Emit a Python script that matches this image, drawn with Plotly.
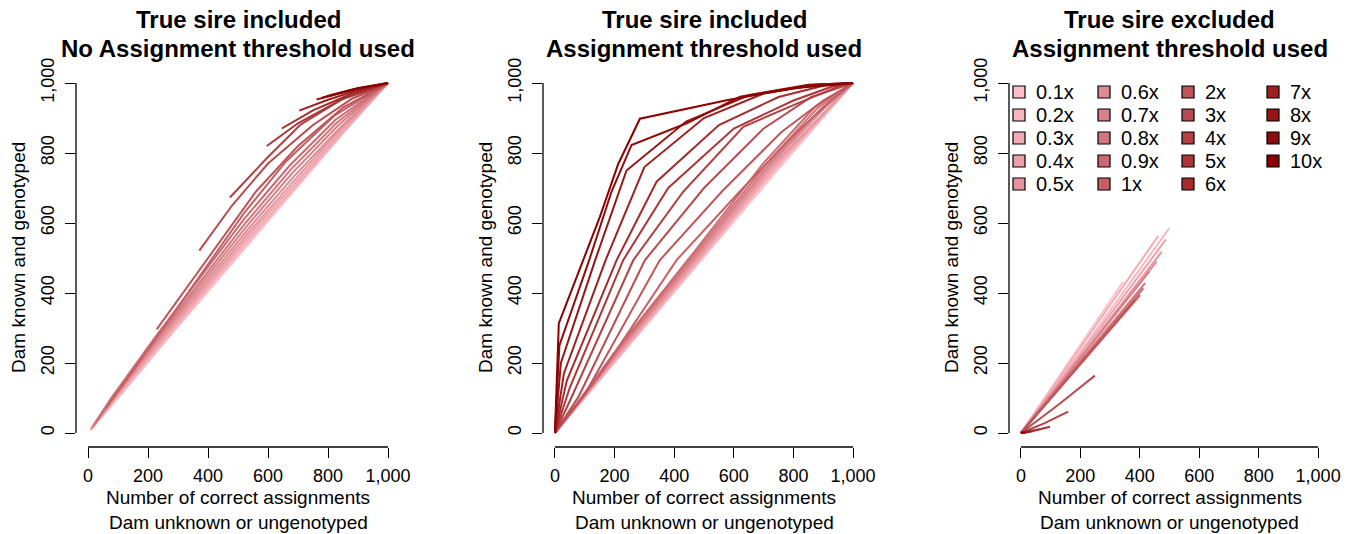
import plotly.graph_objects as go

W, H = 1353, 534

LABELS = ["0.1x", "0.2x", "0.3x", "0.4x", "0.5x", "0.6x", "0.7x", "0.8x", "0.9x",
          "1x", "2x", "3x", "4x", "5x", "6x", "7x", "8x", "9x", "10x"]

TICK_VALS = [0, 200, 400, 600, 800, 1000]
TICK_TEXT = ["0", "200", "400", "600", "800", "1,000"]

TITLES = [("True sire included", "No Assignment threshold used"),
          ("True sire included", "Assignment threshold used"),
          ("True sire excluded", "Assignment threshold used")]
XLAB = ("Number of correct assignments", "Dam unknown or ungenotyped")
YLAB = "Dam known and genotyped"

# Panel 1: true sire included, no threshold
P1_X = [
    [8, 120, 260, 410, 560, 700, 850, 1000],
    [8, 115, 255, 405, 555, 700, 850, 1000],
    [9, 110, 250, 400, 550, 700, 850, 1000],
    [10, 105, 245, 395, 545, 695, 845, 1000],
    [11, 100, 240, 390, 540, 690, 840, 1000],
    [12, 95, 235, 385, 535, 685, 840, 1000],
    [14, 90, 230, 380, 530, 680, 835, 1000],
    [18, 85, 225, 375, 525, 675, 830, 1000],
    [25, 80, 220, 370, 520, 670, 825, 1000],
    [60, 125, 240, 380, 520, 660, 820, 1000],
    [229, 418, 560, 700, 850, 1000],
    [371, 480, 600, 750, 880, 1000],
    [473, 596, 707, 850, 1000],
    [596, 700, 850, 1000],
    [646, 750, 880, 1000],
    [704, 800, 900, 1000],
    [762, 880, 1000],
    [780, 890, 1000],
    [795, 900, 1000],
]
P1_Y = [
    [8, 120, 264, 414, 564, 706, 856, 1000],
    [9, 119, 264, 416, 567, 710, 858, 1000],
    [10, 118, 264, 418, 570, 714, 860, 1000],
    [11, 116, 264, 420, 574, 718, 862, 1000],
    [12, 114, 265, 422, 578, 724, 866, 1000],
    [14, 112, 265, 425, 584, 732, 872, 1000],
    [16, 109, 266, 430, 592, 742, 880, 1000],
    [22, 106, 267, 435, 600, 752, 887, 1000],
    [30, 103, 269, 440, 611, 762, 895, 1000],
    [72, 148, 287, 458, 628, 776, 906, 1000],
    [296, 523, 690, 820, 930, 1000],
    [521, 650, 770, 880, 955, 1000],
    [673, 785, 880, 955, 1000],
    [820, 885, 955, 1000],
    [870, 922, 970, 1000],
    [921, 952, 980, 1000],
    [953, 980, 1000],
    [958, 982, 1000],
    [962, 986, 1000],
]

# Panel 2: true sire included, threshold used
P2_X = [
    [0, 250, 500, 750, 1000],
    [0, 245, 495, 745, 1000],
    [0, 240, 490, 740, 1000],
    [0, 235, 485, 735, 1000],
    [0, 230, 480, 730, 1000],
    [0, 225, 475, 725, 900, 1000],
    [0, 220, 470, 720, 890, 1000],
    [0, 215, 465, 715, 880, 1000],
    [0, 210, 460, 700, 870, 1000],
    [0, 150, 408, 620, 800, 920, 1000],
    [0, 100, 352, 560, 760, 900, 1000],
    [0, 80, 302, 500, 700, 860, 1000],
    [0, 60, 263, 431, 632, 800, 950, 1000],
    [0, 50, 229, 380, 600, 800, 930, 1000],
    [0, 40, 207, 341, 550, 750, 900, 1000],
    [0, 30, 170, 300, 500, 700, 880, 1000],
    [0, 20, 135, 240, 440, 650, 870, 1000],
    [0, 15, 115, 190, 257, 442, 621, 850, 1000],
    [0, 13, 151, 212, 285, 576, 800, 1000],
]
P2_Y = [
    [0, 252, 505, 755, 1000],
    [0, 250, 503, 758, 1000],
    [0, 248, 502, 760, 1000],
    [0, 247, 502, 762, 1000],
    [0, 246, 503, 765, 1000],
    [0, 245, 505, 768, 925, 1000],
    [0, 244, 506, 770, 925, 1000],
    [0, 243, 508, 775, 928, 1000],
    [0, 242, 510, 772, 930, 1000],
    [0, 165, 494, 690, 850, 945, 1000],
    [0, 110, 494, 690, 860, 950, 1000],
    [0, 105, 494, 700, 870, 960, 1000],
    [0, 110, 494, 690, 875, 937, 990, 1000],
    [0, 130, 494, 700, 870, 950, 990, 1000],
    [0, 150, 494, 718, 880, 960, 992, 1000],
    [0, 170, 494, 760, 900, 970, 995, 1000],
    [0, 200, 494, 750, 890, 965, 995, 1000],
    [0, 250, 494, 690, 823, 885, 961, 995, 1000],
    [0, 313, 618, 768, 898, 951, 985, 1000],
]

# Panel 3: true sire excluded, threshold used
P3_X = [
    [0, 170, 344], [0, 250, 499], [0, 230, 462], [0, 245, 488], [0, 240, 474],
    [0, 230, 457], [0, 215, 432], [0, 210, 418], [0, 205, 412], [0, 200, 401],
    [0, 190, 384], [0, 125, 249], [0, 80, 159], [0, 50, 98], [0, 30, 60],
    [0, 20, 40], [0, 12, 25], [0, 8, 15], [0, 4, 8],
]
P3_Y = [
    [0, 215, 432], [0, 290, 585], [0, 280, 563], [0, 275, 553], [0, 260, 518],
    [0, 245, 490], [0, 230, 461], [0, 215, 428], [0, 205, 413], [0, 195, 394],
    [0, 188, 380], [0, 80, 164], [0, 28, 61], [0, 8, 18], [0, 4, 10],
    [0, 2, 5], [0, 1, 3], [0, 1, 2], [0, 0, 1],
]

# colour ramp pink -> darkred
def ramp(n, c0=(255, 192, 203), c1=(139, 0, 0)):
    out = []
    for i in range(n):
        t = i / (n - 1)
        out.append("rgb(%d,%d,%d)" % tuple(round(a + (b - a) * t) for a, b in zip(c0, c1)))
    return out

COLORS = ramp(len(LABELS))

FONT = "Liberation Sans, Arial, Helvetica, sans-serif"

# panel geometry in pixels: data -40 .. 1040
PX_X = [(76, 400), (543, 865), (1009, 1330)]
PX_Y = (69, 447)  # top, bottom

fig = go.Figure()
panels = [(P1_X, P1_Y), (P2_X, P2_Y), (P3_X, P3_Y)]
for p, (XS, YS) in enumerate(panels):
    sfx = "" if p == 0 else str(p + 1)
    for i in range(len(LABELS)):
        fig.add_trace(go.Scatter(
            x=XS[i], y=YS[i], mode="lines", name=LABELS[i],
            line=dict(color=COLORS[i], width=2),
            xaxis="x" + sfx, yaxis="y" + sfx, showlegend=False,
            hoverinfo="skip"))

layout = dict(width=W, height=H, margin=dict(l=0, r=0, t=0, b=0, autoexpand=False),
              paper_bgcolor="white", plot_bgcolor="white",
              font=dict(family=FONT, color="black"))
shapes = []
annotations = []
for p in range(3):
    sfx = "" if p == 0 else str(p + 1)
    x0, x1 = PX_X[p]
    dom_x = [x0 / W, x1 / W]
    dom_y = [1 - PX_Y[1] / H, 1 - PX_Y[0] / H]
    axcommon = dict(range=[-40, 1040], showgrid=False, zeroline=False, showline=False,
                    automargin=False,
                    ticks="outside", ticklen=10, tickwidth=1.3, tickcolor="black",
                    tickvals=TICK_VALS, ticktext=TICK_TEXT,
                    tickfont=dict(family=FONT, size=18, color="black"), fixedrange=True)
    layout["xaxis" + sfx] = dict(axcommon, domain=dom_x, anchor="y" + sfx, ticklabelstandoff=2)
    layout["yaxis" + sfx] = dict(axcommon, domain=dom_y, anchor="x" + sfx, tickangle=-90,
                                 ticklabelstandoff=4)
    # axis lines spanning first to last tick (R style)
    shapes.append(dict(type="line", xref="x" + sfx, yref="y" + sfx + " domain",
                       x0=TICK_VALS[0], x1=TICK_VALS[-1], y0=0, y1=0,
                       line=dict(color="black", width=1.3)))
    shapes.append(dict(type="line", xref="x" + sfx + " domain", yref="y" + sfx,
                       x0=0, x1=0, y0=TICK_VALS[0], y1=TICK_VALS[-1],
                       line=dict(color="black", width=1.3)))
    # titles
    for k, (txt, py) in enumerate(zip(TITLES[p], (20, 48))):
        annotations.append(dict(text="<b>" + txt + "</b>", xref="x" + sfx, x=500,
                                yref="paper", y=1 - py / H, xanchor="center", yanchor="middle",
                                showarrow=False, font=dict(family=FONT, size=24, color="black")))
    for txt, py in zip(XLAB, (497, 522)):
        annotations.append(dict(text=txt, xref="x" + sfx, x=500, yref="paper", y=1 - py / H,
                                xanchor="center", yanchor="middle", showarrow=False,
                                font=dict(family=FONT, size=19, color="black")))
    annotations.append(dict(text=YLAB, xref="paper", x=(x0 - 58) / W, yref="y" + sfx, y=500,
                            xanchor="center", yanchor="middle", textangle=-90, showarrow=False,
                            font=dict(family=FONT, size=19, color="black")))

# legend in panel 3 (column-wise, 5 rows)
LEG_COL_PX = [1013, 1098, 1182, 1267]
LEG_ROW_PX = [92, 115, 138, 161, 184]
for i, lab in enumerate(LABELS):
    c, r = divmod(i, 5)
    sx = LEG_COL_PX[c]
    sy = LEG_ROW_PX[r]
    shapes.append(dict(type="rect", xref="paper", yref="paper",
                       x0=sx / W, x1=(sx + 12) / W, y0=1 - (sy + 6) / H, y1=1 - (sy - 6) / H,
                       fillcolor=COLORS[i], line=dict(color="black", width=1.2)))
    annotations.append(dict(text=lab, xref="paper", yref="paper", x=(sx + 21) / W, y=1 - sy / H,
                            xanchor="left", yanchor="middle", showarrow=False,
                            font=dict(family=FONT, size=20, color="black")))

layout["shapes"] = shapes
layout["annotations"] = annotations
fig.update_layout(**layout)
fig.write_html("out.html", config={"displayModeBar": False},
               post_script="document.body.style.margin='0';document.body.style.overflow='hidden';")
